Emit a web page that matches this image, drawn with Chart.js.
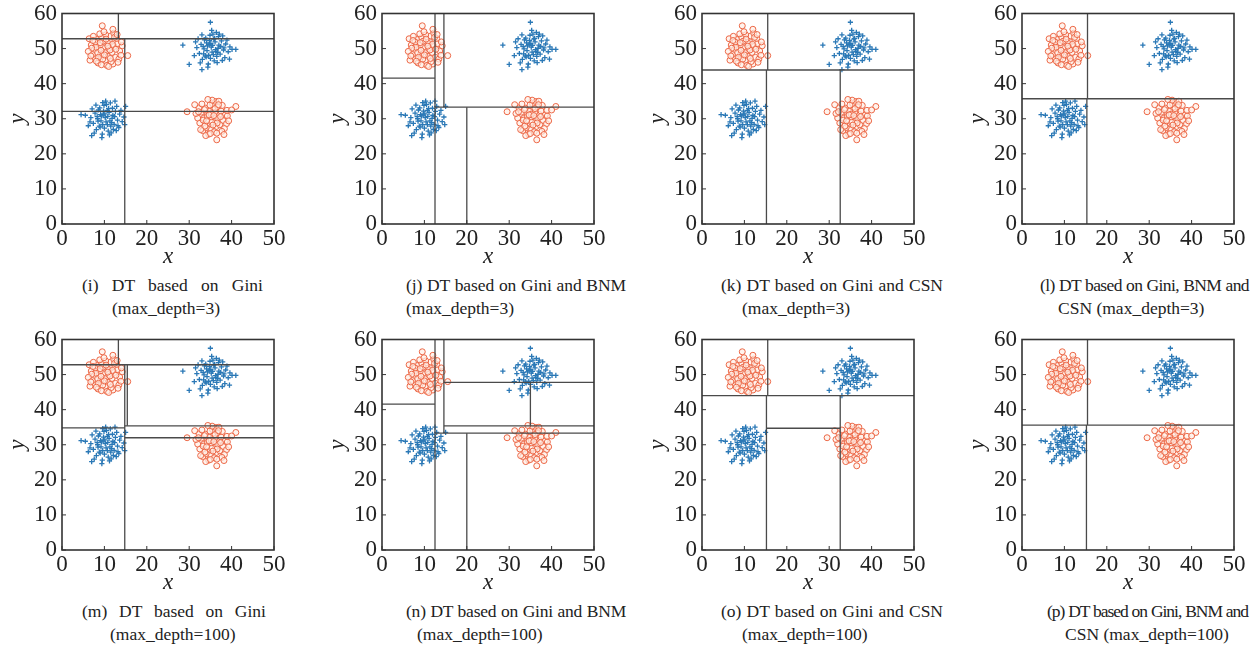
<!DOCTYPE html>
<html>
<head>
<meta charset="utf-8">
<script src="https://cdn.jsdelivr.net/npm/chart.js@4.4.1/dist/chart.umd.min.js"></script>
<style>
  body{margin:0;background:#fff;width:1259px;height:648px;position:relative;overflow:hidden;}
  canvas{position:absolute;}
  .cap{position:absolute;font-family:"Liberation Serif",serif;font-size:17.5px;line-height:22px;color:#222;white-space:nowrap;}
</style>
</head>
<body>
<script>
// red circles, cluster near (10,50)
const redTopX=[9.8,10.5,8.7,11.2,9.1,12.3,7.6,10.9,8.2,11.8,9.4,13.1,6.9,10.2,12.6,7.9,9.0,11.5,8.5,13.6,6.4,10.7,12.0,7.2,9.6,14.2,8.9,11.0,6.6,12.9,10.3,7.4,9.3,13.4,11.6,8.0,10.0,12.2,7.0,9.7,13.9,6.2,11.3,8.4,10.6,12.7,9.2,11.9,7.8,10.4,14.0,8.6,6.8,12.4,9.9,15.5,9.5,12.0,13.0,11.0,8.1,10.8,7.3,13.2,9.0,11.4];
const redTopY=[50.2,49.1,51.3,52.0,48.4,50.6,49.7,47.8,52.6,48.9,53.1,51.4,51.0,46.6,47.5,47.2,50.9,53.6,45.9,49.3,52.8,51.8,45.6,48.3,47.0,50.8,54.2,50.0,46.7,52.9,53.9,53.5,45.4,47.0,46.3,50.4,48.2,54.4,50.1,52.1,48.1,49.2,49.6,48.8,45.2,49.8,49.5,51.2,51.9,52.7,51.9,47.5,47.9,53.2,54.8,48.0,56.5,55.5,54.0,44.9,46.4,50.7,52.3,46.1,51.7,47.2];
// blue pluses, cluster near (35,50)
const blueTopX=[35.2,34.1,36.3,33.5,37.0,35.8,34.6,36.9,32.8,38.1,35.0,33.9,36.5,34.3,37.6,32.4,35.6,38.6,33.1,36.1,34.8,37.3,35.4,31.8,36.8,34.0,39.2,33.6,35.9,37.9,32.1,36.4,34.5,38.4,35.1,33.3,36.7,34.9,31.2,37.4,35.7,33.8,39.6,36.0,34.2,37.8,32.6,35.3,38.9,33.0,36.6,34.7,40.1,31.5,37.1,35.5,28.5,30.0,35.0,33.0,41.0,39.5,36.2,34.4,38.2,33.4];
const blueTopY=[50.4,51.6,49.2,49.9,51.0,52.7,48.1,53.4,51.2,49.6,47.2,53.0,47.8,50.8,52.2,48.6,54.1,51.3,46.9,51.9,52.3,48.4,49.0,50.3,50.1,47.6,49.1,52.5,46.5,53.6,52.8,54.6,45.6,47.4,51.4,50.6,48.9,53.8,48.0,50.6,48.3,47.9,50.5,52.9,49.4,46.6,45.9,55.2,52.4,53.9,46.0,51.1,49.8,51.9,54.1,50.9,51.0,45.5,57.5,44.0,49.8,47.0,49.7,44.7,50.2,48.5];
// blue pluses, cluster near (10,30)
const blueLowX=[10.2,9.1,11.3,8.4,12.0,10.7,9.6,11.9,7.8,13.1,10.0,8.9,11.5,9.3,12.6,7.4,10.5,13.6,8.1,11.1,9.8,12.3,10.4,6.8,11.8,9.0,14.2,8.6,10.9,12.9,7.1,11.4,9.5,13.4,10.1,8.3,11.7,9.9,6.2,12.4,10.7,8.8,14.6,11.0,9.2,12.8,7.6,10.3,13.9,8.0,11.6,9.7,5.5,4.5,15.0,12.5,7.0,9.4,12.1,10.8,6.6,13.2,8.5,11.2,14.8,9.6];
const blueLowY=[30.3,31.2,29.4,30.0,31.0,32.4,28.3,33.0,31.6,29.6,27.3,33.1,27.9,30.8,32.1,28.7,34.0,31.3,26.9,31.8,32.2,28.4,29.1,30.3,30.1,27.6,29.2,32.5,26.5,33.5,32.8,34.5,25.6,27.5,31.4,30.6,28.9,33.8,28.0,30.6,28.3,27.9,30.5,32.9,29.4,26.6,25.9,35.0,32.4,33.9,26.0,31.1,31.0,31.2,33.5,35.0,25.2,24.6,27.0,30.7,29.1,28.0,29.3,25.4,28.3,34.6];
// red circles, cluster near (35,30)
const redLowX=[35.1,34.2,36.2,33.4,37.1,35.7,34.5,36.8,32.9,38.0,35.0,33.8,36.4,34.3,37.5,32.5,35.5,38.5,33.2,36.0,34.8,37.2,35.3,32.0,36.7,34.0,38.8,33.6,35.9,37.8,32.3,36.3,34.6,38.3,35.2,33.3,36.6,34.9,31.6,37.4,35.6,33.7,39.0,36.1,34.1,37.7,32.7,35.4,38.9,33.0,36.5,34.7,31.3,37.0,35.8,29.5,36.5,41.0,40.0,38.2,33.9,36.9,34.4,32.2,39.3,35.0];
const redLowY=[30.4,31.5,29.3,30.1,31.2,32.6,28.2,33.4,31.9,29.5,27.1,33.0,27.8,30.7,32.2,28.8,34.3,31.1,26.6,31.8,32.1,28.3,29.0,30.2,30.1,27.5,28.6,32.6,26.3,33.8,33.1,34.9,25.6,27.2,31.3,29.6,28.8,33.9,31.5,30.6,28.2,27.9,30.8,32.9,29.4,26.4,26.9,35.3,32.4,34.2,25.9,31.1,34.0,35.0,30.9,32.0,24.0,33.5,32.5,25.5,25.2,34.0,35.5,32.0,29.4,25.8];

// decision-tree split segments per panel: [x1, y1, x2, y2]
const splitsI=[[0,52.8,50,52.8],[13.3,52.8,13.3,60],[14.8,0,14.8,52.8],[0,32.1,50,32.1]];
const splitsJ=[[12.5,0,12.5,60],[0,41.6,12.5,41.6],[14.6,33.3,14.6,60],[12.5,33.3,50,33.3],[20,0,20,33.3]];
const splitsK=[[0,43.9,50,43.9],[15.5,43.9,15.5,60],[15.2,0,15.2,43.9],[32.6,0,32.6,43.9]];
const splitsL=[[0,35.7,50,35.7],[15.45,35.7,15.45,60],[15.3,0,15.3,35.7]];
const splitsM=[[0,52.8,50,52.8],[13.3,52.8,13.3,60],[14.8,0,14.8,52.8],[15.4,35.4,15.4,52.8],[0,34.8,14.8,34.8],[14.8,35.4,50,35.4],[14.8,32.0,50,32.0]];
const splitsN=[[12.5,0,12.5,60],[0,41.6,12.5,41.6],[14.6,33.3,14.6,60],[12.5,33.3,50,33.3],[20,0,20,33.3],[14.6,47.8,50,47.8],[35,35.4,35,47.8],[14.6,35.4,50,35.4]];
const splitsO=[[0,44,50,44],[15.5,44,15.5,60],[15.2,0,15.2,44],[32.6,0,32.6,44],[15.2,34.7,32.6,34.7]];
const splitsP=[[0,35.6,50,35.6],[15.45,35.6,15.45,60],[15.2,0,15.2,35.6]];

const captions=[
  ["(i) DT based on Gini","(max_depth=3)"],
  ["(j) DT based on Gini and BNM","(max_depth=3)"],
  ["(k) DT based on Gini and CSN","(max_depth=3)"],
  ["(l) DT based on Gini, BNM and","CSN (max_depth=3)"],
  ["(m) DT based on Gini","(max_depth=100)"],
  ["(n) DT based on Gini and BNM","(max_depth=100)"],
  ["(o) DT based on Gini and CSN","(max_depth=100)"],
  ["(p) DT based on Gini, BNM and","CSN (max_depth=100)"]
];
const capLeft=[[82,112],[406,406],[721,742],[1040,1058],[82,110],[406,417],[721,742],[1047,1065]];
const capRight=[262,625,942,1248,265,625,942,1247];

const panels=[splitsI,splitsJ,splitsK,splitsL,splitsM,splitsN,splitsO,splitsP];

const toPts=(xs,ys)=>xs.map((v,i)=>({x:v,y:ys[i]}));

const frame={
  id:'frame',
  afterDatasetsDraw(chart){
    const {ctx,chartArea:a,scales:{x,y}}=chart;
    ctx.save();
    ctx.strokeStyle='#333';
    ctx.lineWidth=1;
    ctx.beginPath();
    x.ticks.forEach(t=>{const p=x.getPixelForValue(t.value);ctx.moveTo(p,a.bottom);ctx.lineTo(p,a.bottom-4);});
    y.ticks.forEach(t=>{const p=y.getPixelForValue(t.value);ctx.moveTo(a.left,p);ctx.lineTo(a.left+4,p);});
    ctx.stroke();
    ctx.lineWidth=1.6;
    ctx.strokeRect(a.left,a.top,a.right-a.left,a.bottom-a.top);
    ctx.restore();
  }
};

const serif='"Liberation Serif", serif';

panels.forEach((splits,k)=>{
  const col=k%4, row=Math.floor(k/4);
  const cv=document.createElement('canvas');
  cv.width=320; cv.height=284;
  cv.style.left=(col*320)+'px';
  cv.style.top=(row*326-10)+'px';
  document.body.appendChild(cv);

  const lines=splits.map(s=>({
    type:'scatter',
    data:[{x:s[0],y:s[1]},{x:s[2],y:s[3]}],
    showLine:true,
    borderColor:'#4a4a4a',
    borderWidth:1.3,
    pointRadius:0,
    order:0
  }));

  new Chart(cv,{
    type:'scatter',
    data:{datasets:[
      ...lines,
      {data:toPts(redTopX,redTopY),pointStyle:'circle',pointRadius:3,borderWidth:1,borderColor:'#ec6847',backgroundColor:'rgba(255,238,230,0.7)',order:1},
      {data:toPts(redLowX,redLowY),pointStyle:'circle',pointRadius:3,borderWidth:1,borderColor:'#ec6847',backgroundColor:'rgba(255,238,230,0.7)',order:1},
      {data:toPts(blueTopX,blueTopY),pointStyle:'cross',pointRadius:2.6,borderWidth:1.3,borderColor:'#2a78b6',order:1},
      {data:toPts(blueLowX,blueLowY),pointStyle:'cross',pointRadius:2.6,borderWidth:1.3,borderColor:'#2a78b6',order:1}
    ]},
    options:{
      responsive:false,
      animation:false,
      events:[],
      layout:{padding:{top:23.5,left:0,right:46,bottom:0}},
      plugins:{legend:{display:false},tooltip:{enabled:false}},
      scales:{
        x:{
          type:'linear',min:0,max:50,
          grid:{display:false,drawTicks:false,tickLength:0},
          border:{display:false},
          ticks:{stepSize:10,padding:1,color:'#222',font:{family:serif,size:23}},
          title:{display:true,text:'x',color:'#222',font:{family:serif,size:23,style:'italic'},padding:{top:0,bottom:3}},
          afterFit(s){s.height=50;}
        },
        y:{
          type:'linear',min:0,max:60,
          grid:{display:false,drawTicks:false,tickLength:0},
          border:{display:false},
          ticks:{stepSize:10,padding:5,color:'#222',font:{family:serif,size:23}},
          title:{display:true,text:'y',color:'#222',font:{family:serif,size:23,style:'italic'},padding:{top:4,bottom:0}},
          afterFit(s){s.width=62;}
        }
      }
    },
    plugins:[frame]
  });

  captions[k].forEach((t,i)=>{
    const d=document.createElement('div');
    d.className='cap';
    d.textContent=t;
    d.style.left=capLeft[k][i]+'px';
    d.style.top=(row*326+274+i*22.5)+'px';
    document.body.appendChild(d);
    if(i===0){
      // first caption line is justified to the width it has in the figure
      const w=capRight[k]-capLeft[k][0];
      const nat=d.getBoundingClientRect().width;
      if(nat>w-2) d.style.letterSpacing=((w-2-nat)/t.length).toFixed(2)+'px';
      d.style.width=(w+1)+'px';
      d.style.whiteSpace='normal';
      d.style.textAlign='justify';
      d.style.textAlignLast='justify';
    }
  });
});
</script>
</body>
</html>
